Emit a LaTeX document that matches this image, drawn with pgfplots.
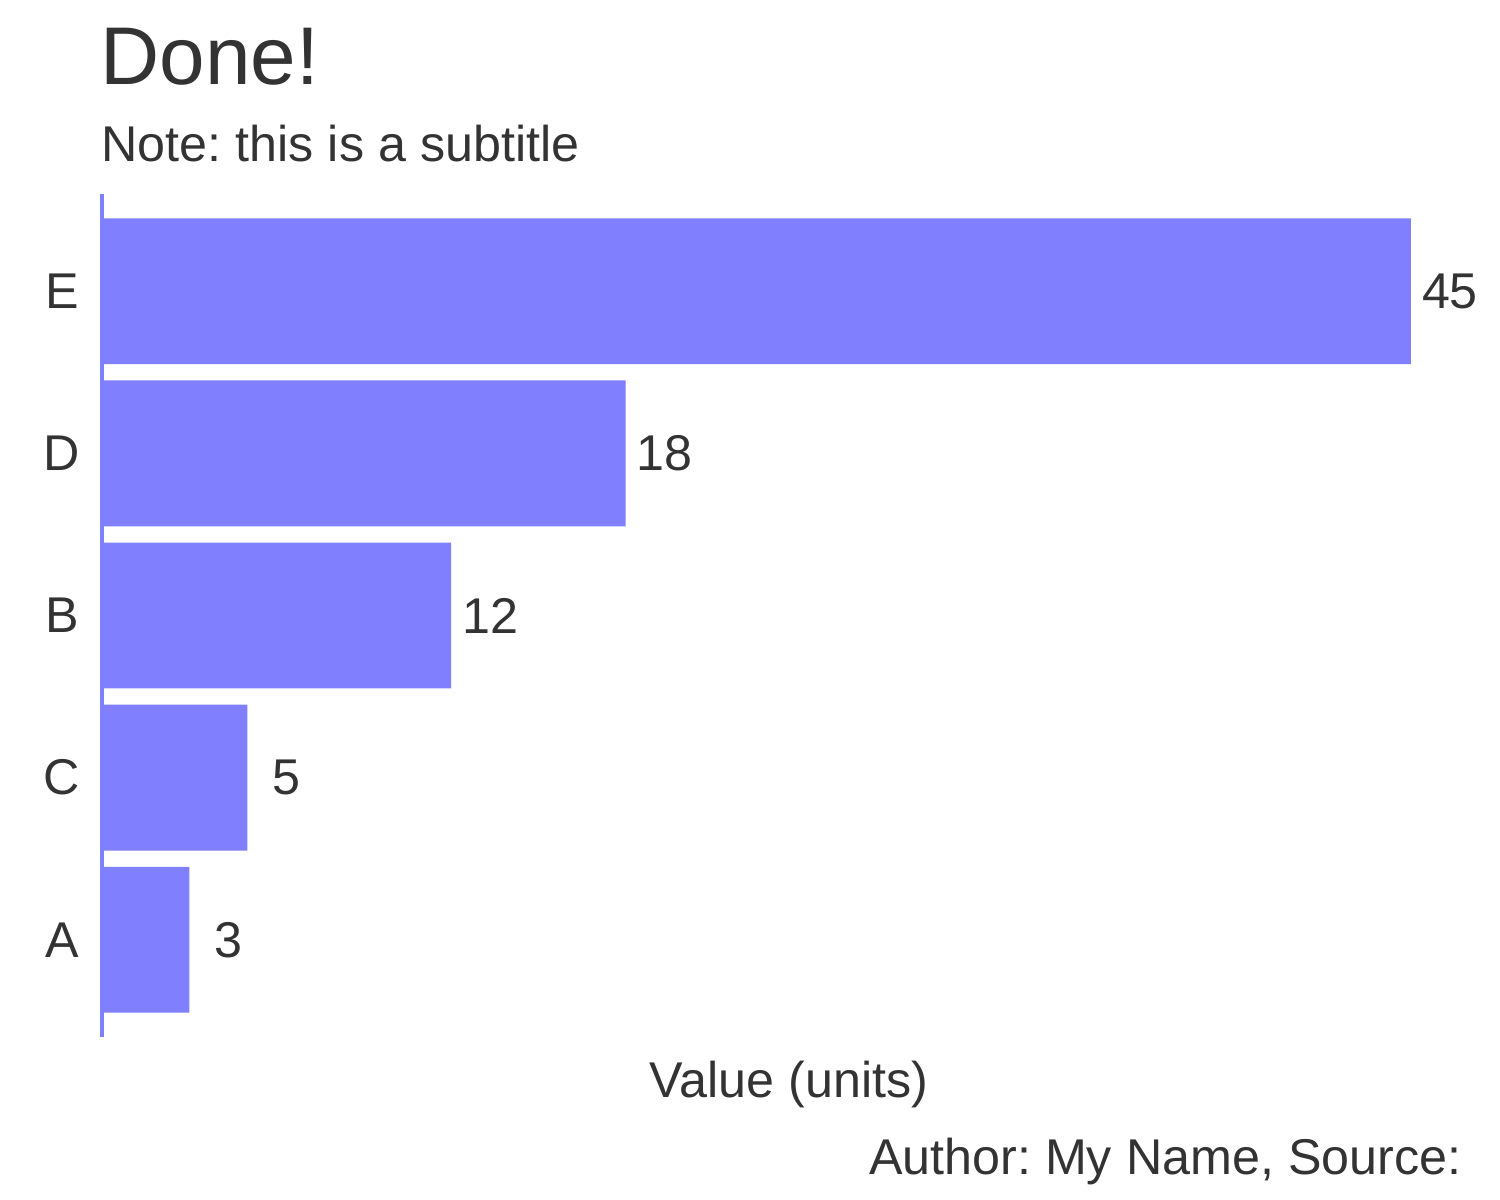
\documentclass[border=0pt]{standalone}
\usepackage{fontspec}
\setmainfont{Liberation Sans}
\usepackage{pgfplots}
\pgfplotsset{compat=1.18}
\definecolor{barblue}{HTML}{8080FF}
\definecolor{txt}{HTML}{333333}
\newcommand{\lbl}{\fontsize{14.3}{17}\selectfont}
\frenchspacing
\begin{document}
\begin{tikzpicture}
\begin{axis}[
    at={(1.02cm,1.63cm)}, anchor=south west,
    scale only axis,
    width=13.09cm, height=8.43cm,
    xbar, bar width=0.9, bar shift=0pt,
    xmin=0, xmax=45, ymin=-0.6, ymax=4.6,
    clip=false,
    axis y line=left, axis x line=bottom,
    x axis line style={draw=none},
    y axis line style={draw=barblue, line width=0.4mm, -},
    xtick=\empty,
    ytick={0,1,2,3,4},
    yticklabels={A,C,B,D,E},
    major tick length=0pt,
    yticklabel style={anchor=east, inner sep=0pt, xshift=-2.2mm,
        font=\lbl, text=txt},
    point meta=x,
    /pgf/number format/assume math mode=true,
    nodes near coords,
    nodes near coords style={anchor=center, xshift=3.9mm, inner sep=0pt,
        font=\lbl, text=txt},
]
\addplot[fill=barblue, draw=none] coordinates {
    (3,0) (5,1) (12,2) (18,3) (45,4)
};
\end{axis}
\node[anchor=base west, inner sep=0pt, text=txt, font=\fontsize{23.3}{28}\selectfont] at (1.00,11.15) {Done!};
\node[anchor=base west, inner sep=0pt, text=txt, font=\lbl] at (1.01,10.38) {Note: this is a subtitle};
\node[anchor=base, inner sep=0pt, text=txt, font=\lbl] at (7.89,1.02) {Value (units)};
\node[anchor=base east, inner sep=0pt, text=txt, font=\lbl] at (14.62,0.25) {Author: My Name, Source:};
\pgfresetboundingbox
\useasboundingbox (0,0) rectangle (15,12);
\end{tikzpicture}
\end{document}
